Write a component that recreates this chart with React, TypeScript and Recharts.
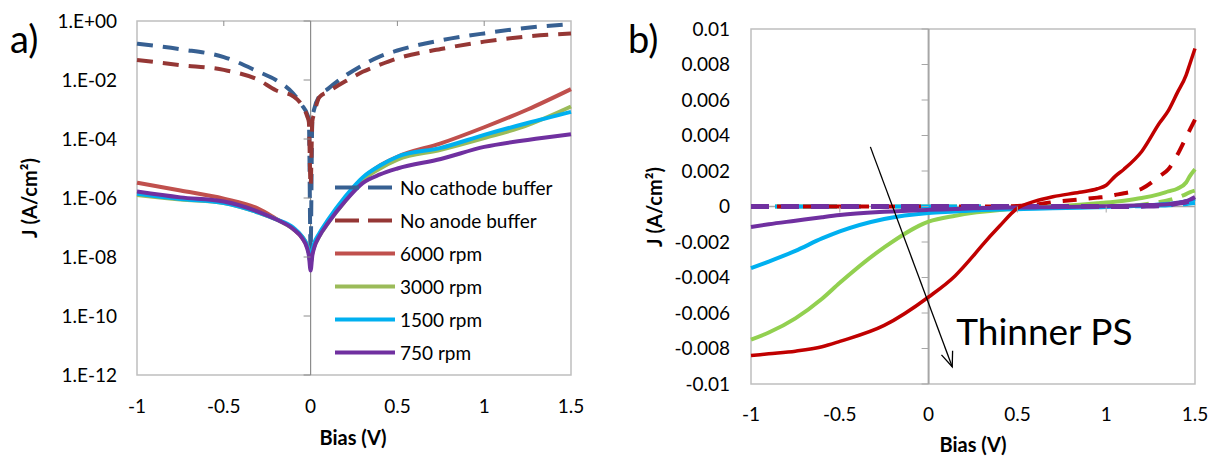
import React from 'react';
import {
  LineChart,
  Line,
  XAxis,
  YAxis,
  ReferenceLine,
  ReferenceDot,
  ReferenceArea,
  Legend,
} from 'recharts';

const FONT = "Lato, 'Open Sans', 'DejaVu Sans', sans-serif";
const AXIS_GRAY = '#8C8C8C';
const BORDER_GRAY = '#BFBFBF';

// ---------- shared x axis ----------
const xTicks = [-1, -0.5, 0, 0.5, 1, 1.5];
const xTickLabels = ['-1', '-0.5', '0', '0.5', '1', '1.5'];

// ---------- panel a: |J| on a log axis ----------
const biasA = [
  -1, -0.75, -0.5, -0.3, -0.2, -0.1, -0.05, -0.02, -0.01, 0,
  0.01, 0.02, 0.05, 0.1, 0.2, 0.3, 0.4, 0.5, 0.75, 1, 1.25, 1.5,
];
const noCathodeBuffer = [
  0.17, 0.11, 0.06, 0.019, 0.01, 0.0035, 0.0014, 7e-4, 4.5e-4, 1.6e-8,
  5e-4, 1e-3, 2.8e-3, 5e-3, 0.014, 0.032, 0.063, 0.1, 0.22, 0.38, 0.59, 0.79,
];
const noAnodeBuffer = [
  0.048, 0.032, 0.022, 0.01, 0.0045, 0.0028, 0.0014, 6e-4, 3.8e-4, 2.5e-6,
  4e-4, 7e-4, 2.6e-3, 4e-3, 9e-3, 0.019, 0.033, 0.054, 0.112, 0.2, 0.3, 0.38,
];
const rpm6000A = [
  3.3e-6, 1.8e-6, 9.5e-7, 4.3e-7, 2e-7, 8.9e-8, 4.5e-8, 2.2e-8, 1.4e-8, 6.3e-9,
  1.4e-8, 2.5e-8, 5.6e-8, 1.6e-7, 8.9e-7, 4.5e-6, 1.26e-5, 2.5e-5, 7.1e-5, 2.5e-4, 1e-3, 4.9e-3,
];
const rpm3000A = [
  1.26e-6, 8.9e-7, 6.8e-7, 3.2e-7, 1.9e-7, 8.9e-8, 5e-8, 2.5e-8, 1.6e-8, 7.9e-9,
  1.4e-8, 2.2e-8, 5e-8, 1.4e-7, 7.9e-7, 4e-6, 1e-5, 2e-5, 4.3e-5, 1.07e-4, 2.95e-4, 1.26e-3,
];
const rpm1500A = [
  1.4e-6, 9.3e-7, 6.8e-7, 3.2e-7, 1.9e-7, 1e-7, 5e-8, 2.4e-8, 1.4e-8, 6.3e-9,
  1.6e-8, 2.8e-8, 6.3e-8, 1.8e-7, 1.12e-6, 5e-6, 1.26e-5, 2.5e-5, 5e-5, 1.38e-4, 3.5e-4, 8.3e-4,
];
const rpm750A = [
  1.66e-6, 1.05e-6, 7.6e-7, 3.4e-7, 1.9e-7, 8.9e-8, 4.5e-8, 2e-8, 1.12e-8, 3.5e-9,
  1.12e-8, 2e-8, 5e-8, 1.4e-7, 7.9e-7, 3.2e-6, 6.3e-6, 1e-5, 2.1e-5, 5.4e-5, 9.3e-5, 1.45e-4,
];
const yTicksA = [1, 1e-2, 1e-4, 1e-6, 1e-8, 1e-10, 1e-12];
const yTickLabelsA = ['1.E+00', '1.E-02', '1.E-04', '1.E-06', '1.E-08', '1.E-10', '1.E-12'];

// ---------- panel b: J on a linear axis (light = solid, dark = dashed) ----------
const biasB = [
  -1, -0.9, -0.75, -0.6, -0.5, -0.25, 0, 0.15, 0.25, 0.3, 0.4, 0.5, 0.6,
  0.7, 0.85, 0.95, 1, 1.05, 1.1, 1.2, 1.3, 1.35, 1.4, 1.45, 1.47, 1.5,
];
const rpm6000Light = [
  -0.0084, -0.0083, -0.00815, -0.0079, -0.0076, -0.0067, -0.0051, -0.0039, -0.0028, -0.0022, -0.0011, -0.0001, 0.0003,
  0.00055, 0.0008, 0.001, 0.0012, 0.0017, 0.0021, 0.0031, 0.0047, 0.0054, 0.0064, 0.0074, 0.008, 0.0089,
];
const rpm6000Dark = [
  0, 0, 0, 0, 0, 0, 0, 0, 0, 0, 0, 0.00003, 0.0001,
  0.00025, 0.0004, 0.0005, 0.00055, 0.00065, 0.00075, 0.001, 0.0017, 0.0021, 0.0029, 0.0039, 0.0043, 0.0049,
];
const rpm3000Light = [
  -0.0075, -0.0071, -0.0063, -0.0052, -0.0043, -0.0023, -0.00085, -0.00052, -0.00036, -0.0003, -0.0002, -0.00012, -0.00005,
  0, 0.0001, 0.00018, 0.00022, 0.00027, 0.00033, 0.00048, 0.0007, 0.00085, 0.001, 0.00135, 0.0017, 0.0021,
];
const rpm3000Dark = [
  0, 0, 0, 0, 0, 0, 0, 0, 0, 0, 0, 0, 0,
  0, 0, 0, 0, 0, 0, 0.0001, 0.00025, 0.00035, 0.0005, 0.0007, 0.0008, 0.0009,
];
const rpm1500Light = [
  -0.00347, -0.0031, -0.0025, -0.0018, -0.0014, -0.0007, -0.00036, -0.00028, -0.00022, -0.0002, -0.00017, -0.00015, -0.00013,
  -0.0001, -0.00007, -0.00004, -0.00003, -0.00001, 0, 0.00005, 0.00011, 0.00015, 0.0002, 0.0003, 0.00035, 0.00043,
];
const rpm1500Dark = [
  0, 0, 0, 0, 0, 0, 0, 0, 0, 0, 0, 0, 0,
  0, 0, 0, 0, 0, 0, 0.00002, 0.00005, 0.00007, 0.0001, 0.00014, 0.00017, 0.0002,
];
const rpm750Light = [
  -0.00115, -0.001, -0.0008, -0.0006, -0.00048, -0.0003, -0.00019, -0.00014, -0.0001, -0.00009, -0.00007, -0.00006, -0.00005,
  -0.00004, -0.00002, 0, 0.00002, 0.00003, 0.00004, 0.00007, 0.0001, 0.00013, 0.00018, 0.0003, 0.00038, 0.00053,
];
const rpm750Dark = [
  0, 0, 0, 0, 0, 0, 0, 0, 0, 0, 0, 0, 0,
  0, 0, 0, 0, 0, 0, 0.00002, 0.00005, 0.0001, 0.00018, 0.00025, 0.0003, 0.0004,
];
const yTicksB = [0.01, 0.008, 0.006, 0.004, 0.002, 0, -0.002, -0.004, -0.006, -0.008, -0.01];
const yTickLabelsB = ['0.01', '0.008', '0.006', '0.004', '0.002', '0', '-0.002', '-0.004', '-0.006', '-0.008', '-0.01'];

// ---------- helpers ----------
function buildRows(x: number[], series: Record<string, number[]>) {
  return x.map((b, i) => {
    const row: Record<string, number> = { bias: b };
    Object.keys(series).forEach((k) => {
      row[k] = series[k][i];
    });
    return row;
  });
}

const dataA = buildRows(biasA, {
  noCathode: noCathodeBuffer,
  noAnode: noAnodeBuffer,
  r6000: rpm6000A,
  r3000: rpm3000A,
  r1500: rpm1500A,
  r750: rpm750A,
});

const dataB = buildRows(biasB, {
  r6000L: rpm6000Light,
  r6000D: rpm6000Dark,
  r3000L: rpm3000Light,
  r3000D: rpm3000Dark,
  r1500L: rpm1500Light,
  r1500D: rpm1500Dark,
  r750L: rpm750Light,
  r750D: rpm750Dark,
});

const fmtX = (v: number) => xTickLabels[xTicks.indexOf(v)] ?? String(v);
const fmtYA = (v: number) => yTickLabelsA[yTicksA.indexOf(v)] ?? String(v);
const fmtYB = (v: number) => yTickLabelsB[yTicksB.indexOf(v)] ?? String(v);

const tickStyle = { fill: '#000', fontSize: 19, fontFamily: FONT };

// small tick marks drawn on the crossing axes
const leftTick = (len: number, color: string) => (p: any) => (
  <line x1={p.cx - len} y1={p.cy} x2={p.cx} y2={p.cy} stroke={color} strokeWidth={1} />
);
const downTick = (len: number, color: string) => (p: any) => (
  <line x1={p.cx} y1={p.cy} x2={p.cx} y2={p.cy + len} stroke={color} strokeWidth={1} />
);

type LegendRow = { label: string; color: string; dash?: string };
const legendRowsA: LegendRow[] = [
  { label: 'No cathode buffer', color: '#376092', dash: '24 9' },
  { label: 'No anode buffer', color: '#953735', dash: '24 9' },
  { label: '6000 rpm', color: '#C0504D' },
  { label: '3000 rpm', color: '#9BBB59' },
  { label: '1500 rpm', color: '#00B0F0' },
  { label: '750 rpm', color: '#7030A0' },
];

const LegendA = () => (
  <div style={{ fontFamily: FONT, fontSize: 19, color: '#000' }}>
    {legendRowsA.map((r) => (
      <div key={r.label} style={{ display: 'flex', alignItems: 'center', height: 33 }}>
        <svg width={62} height={33} style={{ display: 'block' }}>
          <line x1={0} y1={16.5} x2={60} y2={16.5} stroke={r.color} strokeWidth={4} strokeDasharray={r.dash} />
        </svg>
        <span style={{ marginLeft: 3, whiteSpace: 'nowrap', lineHeight: '33px' }}>{r.label}</span>
      </div>
    ))}
  </div>
);

// arrow with its caption
const arrowShape = (p: any) => {
  const { x1, y1, x2, y2 } = p;
  const ang = Math.atan2(y2 - y1, x2 - x1);
  const L = 16;
  const a1 = ang + Math.PI - 0.38;
  const a2 = ang + Math.PI + 0.38;
  return (
    <g>
      <line x1={x1} y1={y1} x2={x2} y2={y2} stroke="#000" strokeWidth={1.3} />
      <polyline
        points={`${x2 + L * Math.cos(a1)},${y2 + L * Math.sin(a1)} ${x2},${y2} ${x2 + L * Math.cos(a2)},${y2 + L * Math.sin(a2)}`}
        fill="none"
        stroke="#000"
        strokeWidth={1.3}
      />
      <text x={x2 + 4} y={y2 - 22} fontFamily={FONT} fontSize={37} fill="#000">
        Thinner PS
      </text>
    </g>
  );
};

export default function App() {
  return (
    <div
      style={{
        position: 'absolute',
        left: 0,
        top: 0,
        width: 1211,
        height: 458,
        background: '#fff',
        fontFamily: FONT,
        overflow: 'hidden',
      }}
    >
      {/* panel a */}
      <div style={{ position: 'absolute', left: 0, top: 0 }}>
        <LineChart width={600} height={458} data={dataA} margin={{ top: 21, right: 29, bottom: 0, left: 0 }}>
          <ReferenceArea x1={-1} x2={1.5} y1={1e-12} y2={1} fill="none" stroke={BORDER_GRAY} strokeWidth={1.5} ifOverflow="visible" />
          <XAxis
            dataKey="bias"
            type="number"
            domain={[-1, 1.5]}
            ticks={xTicks}
            interval={0}
            tickFormatter={fmtX}
            axisLine={false}
            tickLine={false}
            tickSize={0}
            tickMargin={25}
            height={83}
            tick={tickStyle}
          />
          <YAxis
            type="number"
            scale="log"
            domain={[1e-12, 1]}
            allowDataOverflow
            ticks={yTicksA}
            interval={0}
            tickFormatter={fmtYA}
            axisLine={false}
            tickLine={false}
            tickSize={0}
            tickMargin={20}
            width={137}
            tick={tickStyle}
          />
          <ReferenceLine x={0} stroke={AXIS_GRAY} strokeWidth={1.2} />
          {yTicksA.map((t) => (
            <ReferenceDot key={`ya${t}`} x={0} y={t} ifOverflow="visible" shape={leftTick(7, AXIS_GRAY)} />
          ))}
          {[-0.5, 0.5, 1].map((t) => (
            <ReferenceDot key={`xa${t}`} x={t} y={1} ifOverflow="visible" shape={downTick(5, AXIS_GRAY)} />
          ))}
          <Line type="monotone" dataKey="noCathode" name="No cathode buffer" stroke="#376092" strokeWidth={4} strokeDasharray="16 10" dot={false} isAnimationActive={false} />
          <Line type="monotone" dataKey="noAnode" name="No anode buffer" stroke="#953735" strokeWidth={4} strokeDasharray="16 10" dot={false} isAnimationActive={false} />
          <Line type="monotone" dataKey="r6000" name="6000 rpm" stroke="#C0504D" strokeWidth={4} dot={false} isAnimationActive={false} />
          <Line type="monotone" dataKey="r3000" name="3000 rpm" stroke="#9BBB59" strokeWidth={4} dot={false} isAnimationActive={false} />
          <Line type="monotone" dataKey="r1500" name="1500 rpm" stroke="#00B0F0" strokeWidth={4} dot={false} isAnimationActive={false} />
          <Line type="monotone" dataKey="r750" name="750 rpm" stroke="#7030A0" strokeWidth={4} dot={false} isAnimationActive={false} />
          <Legend
            layout="vertical"
            align="center"
            verticalAlign="middle"
            wrapperStyle={{ left: 335, top: 171, width: 240, height: 200 }}
            content={() => <LegendA />}
          />
        </LineChart>
      </div>

      {/* panel b */}
      <div style={{ position: 'absolute', left: 600, top: 0 }}>
        <LineChart width={611} height={458} data={dataB} margin={{ top: 29, right: 16, bottom: 0, left: 0 }}>
          <ReferenceArea x1={-1} x2={1.5} y1={-0.01} y2={0.01} fill="none" stroke={BORDER_GRAY} strokeWidth={1.5} ifOverflow="visible" />
          <XAxis
            dataKey="bias"
            type="number"
            domain={[-1, 1.5]}
            ticks={xTicks}
            interval={0}
            tickFormatter={fmtX}
            axisLine={false}
            tickLine={false}
            tickSize={0}
            tickMargin={24}
            height={74}
            tick={tickStyle}
          />
          <YAxis
            type="number"
            domain={[-0.01, 0.01]}
            allowDataOverflow
            ticks={yTicksB}
            interval={0}
            tickFormatter={fmtYB}
            axisLine={false}
            tickLine={false}
            tickSize={0}
            tickMargin={21}
            width={151}
            tick={tickStyle}
          />
          <ReferenceLine x={0} stroke="#A6A6A6" strokeWidth={2} />
          <ReferenceLine y={0} stroke="#A6A6A6" strokeWidth={1.5} />
          {yTicksB.map((t) => (
            <ReferenceDot key={`yb${t}`} x={0} y={t} ifOverflow="visible" shape={leftTick(7, '#A6A6A6')} />
          ))}
          {[-0.5, 0.5, 1].map((t) => (
            <ReferenceDot key={`xb${t}`} x={t} y={0} ifOverflow="visible" shape={downTick(6, '#A6A6A6')} />
          ))}
          <Line type="monotone" dataKey="r3000D" name="3000 rpm dark" stroke="#92D050" strokeWidth={4} strokeDasharray="14 10" dot={false} isAnimationActive={false} />
          <Line type="monotone" dataKey="r1500D" name="1500 rpm dark" stroke="#00B0F0" strokeWidth={4} strokeDasharray="14 10" dot={false} isAnimationActive={false} />
          <Line type="monotone" dataKey="r6000D" name="6000 rpm dark" stroke="#C00000" strokeWidth={4} strokeDasharray="14 12" dot={false} isAnimationActive={false} />
          <Line type="monotone" dataKey="r3000L" name="3000 rpm light" stroke="#92D050" strokeWidth={4} dot={false} isAnimationActive={false} />
          <Line type="monotone" dataKey="r1500L" name="1500 rpm light" stroke="#00B0F0" strokeWidth={4} dot={false} isAnimationActive={false} />
          <Line type="monotone" dataKey="r750L" name="750 rpm light" stroke="#7030A0" strokeWidth={4} dot={false} isAnimationActive={false} />
          <Line type="monotone" dataKey="r750D" name="750 rpm dark" stroke="#7030A0" strokeWidth={5} strokeDasharray="18 12" dot={false} isAnimationActive={false} />
          <Line type="monotone" dataKey="r6000L" name="6000 rpm light" stroke="#C00000" strokeWidth={3.5} dot={false} isAnimationActive={false} />
          <ReferenceLine
            segment={[
              { x: -0.328, y: 0.00336 },
              { x: 0.133, y: -0.00903 },
            ]}
            ifOverflow="visible"
            shape={arrowShape}
          />
        </LineChart>
      </div>

      {/* panel letters and axis titles */}
      <svg
        width={1211}
        height={458}
        style={{ position: 'absolute', left: 0, top: 0, pointerEvents: 'none' }}
        fontFamily={FONT}
      >
        <text x={10} y={53} fontSize={38} fill="#000">a)</text>
        <text x={628} y={53} fontSize={38} fill="#000">b)</text>
        <text x={353} y={445} fontSize={20} fontWeight="bold" textAnchor="middle" fill="#000">Bias (V)</text>
        <text x={973} y={452} fontSize={20} fontWeight="bold" textAnchor="middle" fill="#000">Bias (V)</text>
        <text x={37} y={198} fontSize={20} fontWeight="bold" textAnchor="middle" fill="#000" transform="rotate(-90 37 198)">
          J (A/cm²)
        </text>
        <text x={662} y={207} fontSize={20} fontWeight="bold" textAnchor="middle" fill="#000" transform="rotate(-90 662 207)">
          J (A/cm²)
        </text>
      </svg>
    </div>
  );
}
